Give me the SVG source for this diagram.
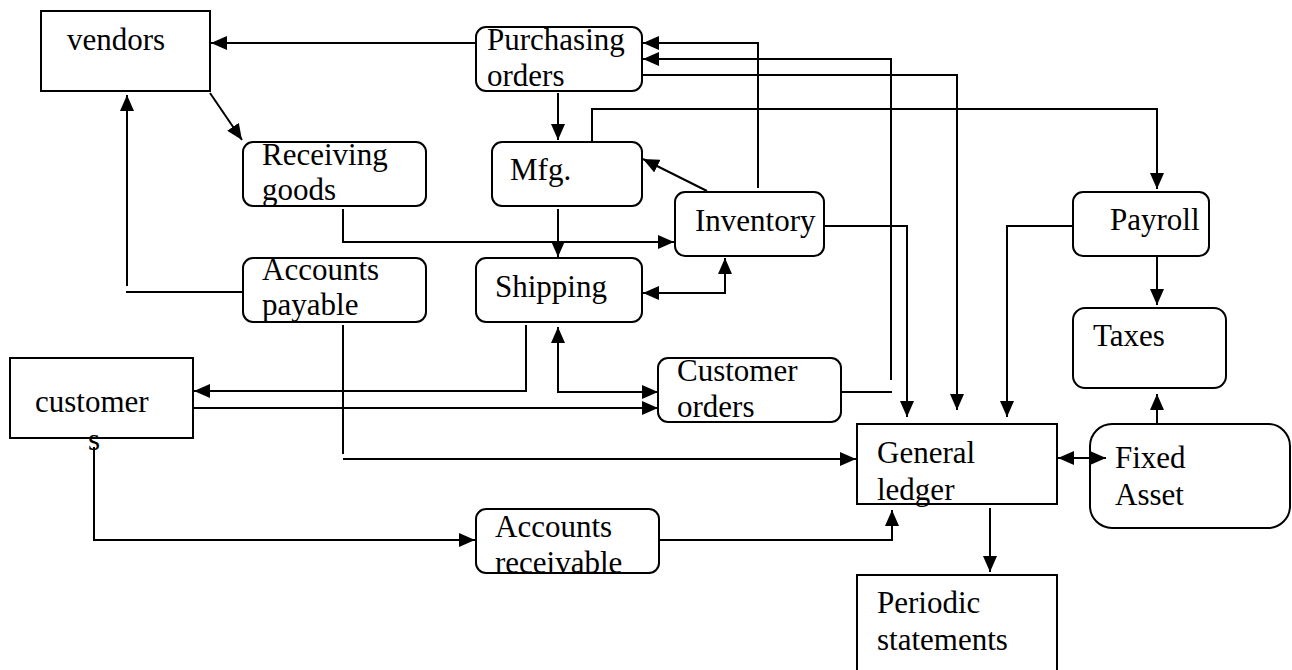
<svg xmlns="http://www.w3.org/2000/svg" width="1292" height="670" viewBox="0 0 1292 670">
  <defs>
    <marker id="arrow" markerUnits="userSpaceOnUse" markerWidth="16" markerHeight="14" refX="16" refY="7" orient="auto-start-reverse" viewBox="0 0 16 14">
      <path d="M0,0 L16,7 L0,14 Z" fill="#000"/>
    </marker>
    <style>
      .box { fill: #fff; stroke: #000; stroke-width: 2; }
      .lbl { font-family: "Liberation Serif", "Times New Roman", serif; font-size: 31px; fill: #000; }
      .wire { fill: none; stroke: #000; stroke-width: 2; }
      .arr { marker-end: url(#arrow); }
      .both { marker-start: url(#arrow); marker-end: url(#arrow); }
    </style>
  </defs>
  <rect width="1292" height="670" fill="#fff"/>

  <!-- nodes -->
  <g id="vendors">
    <rect class="box" x="41" y="11" width="169" height="80"/>
    <text class="lbl" x="67" y="50">vendors</text>
  </g>
  <g id="purchasing-orders">
    <rect class="box" x="476" y="27" width="166" height="64" rx="10"/>
    <text class="lbl" x="487" y="50">Purchasing</text>
    <text class="lbl" x="487" y="86">orders</text>
  </g>
  <g id="receiving-goods">
    <rect class="box" x="243" y="142" width="183" height="64" rx="10"/>
    <text class="lbl" x="262" y="165">Receiving</text>
    <text class="lbl" x="262" y="200">goods</text>
  </g>
  <g id="accounts-payable">
    <rect class="box" x="243" y="258" width="183" height="64" rx="10"/>
    <text class="lbl" x="262" y="280">Accounts</text>
    <text class="lbl" x="262" y="315">payable</text>
  </g>
  <g id="mfg">
    <rect class="box" x="492" y="142" width="150" height="64" rx="10"/>
    <text class="lbl" x="510" y="180">Mfg.</text>
  </g>
  <g id="inventory">
    <rect class="box" x="675" y="192" width="149" height="64" rx="10"/>
    <text class="lbl" x="695" y="231">Inventory</text>
  </g>
  <g id="shipping">
    <rect class="box" x="476" y="258" width="166" height="64" rx="10"/>
    <text class="lbl" x="495" y="297">Shipping</text>
  </g>
  <g id="payroll">
    <rect class="box" x="1073" y="192" width="136" height="64" rx="10"/>
    <text class="lbl" x="1110" y="230">Payroll</text>
  </g>
  <g id="taxes">
    <rect class="box" x="1073" y="308" width="153" height="80" rx="12"/>
    <text class="lbl" x="1093" y="346">Taxes</text>
  </g>
  <g id="fixed-asset">
    <rect class="box" x="1090" y="424" width="200" height="104" rx="22"/>
    <text class="lbl" x="1115" y="468">Fixed</text>
    <text class="lbl" x="1115" y="505">Asset</text>
  </g>
  <g id="general-ledger">
    <rect class="box" x="857" y="424" width="200" height="80"/>
    <text class="lbl" x="877" y="463">General</text>
    <text class="lbl" x="877" y="500">ledger</text>
  </g>
  <g id="customer-orders">
    <rect class="box" x="658" y="358" width="183" height="64" rx="10"/>
    <text class="lbl" x="677" y="381">Customer</text>
    <text class="lbl" x="677" y="417">orders</text>
  </g>
  <g id="periodic-statements">
    <rect class="box" x="857" y="575" width="200" height="110"/>
    <text class="lbl" x="877" y="613">Periodic</text>
    <text class="lbl" x="877" y="650">statements</text>
  </g>
  <g id="customers">
    <rect class="box" x="10" y="358" width="183" height="80"/>
    <text class="lbl" x="35" y="412">customer</text>
    <text class="lbl" x="88" y="450">s</text>
  </g>
  <g id="accounts-receivable">
    <rect class="box" x="476" y="509" width="183" height="64" rx="10"/>
    <text class="lbl" x="495" y="537">Accounts</text>
    <text class="lbl" x="495" y="573">receivable</text>
  </g>

  <!-- connectors, drawn last so arrowheads stay on top of the boxes -->
  <g id="connectors">
    <path class="wire arr" d="M476,43 H211"/>
    <path class="wire arr" d="M210,93 L242,140"/>
    <path class="wire arr" d="M127,286 V95"/>
    <path class="wire" d="M126,292 H243"/>
    <path class="wire arr" d="M343,209 V242 H674"/>
    <path class="wire arr" d="M558,93 V140"/>
    <path class="wire arr" d="M592,142 V109 H1157 V189"/>
    <path class="wire arr" d="M707,191 L643,159"/>
    <path class="wire arr" d="M758,188 V43 H643"/>
    <path class="wire arr" d="M891,380 V59 H643"/>
    <path class="wire" d="M841,392 H892"/>
    <path class="wire arr" d="M642,75 H957 V410"/>
    <path class="wire arr" d="M824,226 H907 V417"/>
    <path class="wire arr" d="M1073,226 H1007 V417"/>
    <path class="wire arr" d="M1157,257 V305"/>
    <path class="wire arr" d="M1157,424 V394"/>
    <path class="wire both" d="M1058,458 H1106"/>
    <path class="wire arr" d="M990,508 V572"/>
    <path class="wire" d="M343,325 V454"/>
    <path class="wire arr" d="M343,459 H856"/>
    <path class="wire arr" d="M526,325 V391 H194"/>
    <path class="wire both" d="M558,327 V392 H658"/>
    <path class="wire arr" d="M193,408 H658"/>
    <path class="wire arr" d="M94,447 V540 H475"/>
    <path class="wire arr" d="M659,540 H892 V510"/>
    <path class="wire both" d="M643,293 H725 V258"/>
    <path class="wire arr" d="M558,209 V257"/>
  </g>
</svg>
